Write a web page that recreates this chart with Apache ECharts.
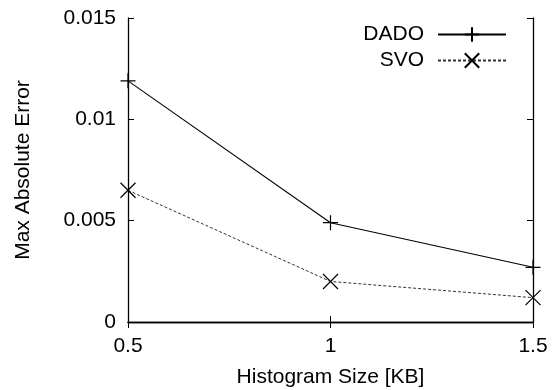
<html style="width: 100%; height: 100%">
<head>
    <meta charset="utf-8">
    <script src="https://cdn.jsdelivr.net/npm/echarts@6/dist/echarts.min.js"></script>
</head>
<body style="width: 100%; height: 100%; margin: 0; background: #fff">
<div id="container" style="width: 552px; height: 390px"></div>

<script type="text/javascript">
    // histogram sizes in KB
    var sizes = [0.5, 1, 1.5];
    var dado = [0.0119, 0.0049, 0.0027];
    var svo = [0.0065, 0.0020, 0.0012];
    var seriesNames = ['DADO', 'SVO'];

    var PLUS = 'path://M0,5L10,5M5,0L5,10';
    var CROSS = 'path://M0,0L10,10M10,0L0,10';
    var FONT = 'Liberation Sans';

    function pairs(vals) {
        return sizes.map(function (s, i) { return [s, vals[i]]; });
    }

    var myChart = echarts.init(document.getElementById('container'));

    var tick = {show: true, inside: true, length: 6, lineStyle: {color: '#000'}};
    var line = {show: true, lineStyle: {color: '#000', width: 1.3}};

    var option = {
        animation: false,
        textStyle: {fontFamily: FONT},
        grid: {left: 128, right: 19, top: 18, bottom: 68, outerBoundsMode: 'none', containLabel: false},
        legend: {
            data: seriesNames,
            orient: 'vertical',
            align: 'right',
            right: 40,
            top: 19,
            itemWidth: 68,
            itemHeight: 18,
            itemGap: 5,
            textStyle: {fontFamily: FONT, fontSize: 21, color: '#000', padding: [0, 9, 0, 0]}
        },
        xAxis: [{
            type: 'value',
            min: 0.5, max: 1.5, interval: 0.5,
            name: 'Histogram Size [KB]',
            nameLocation: 'middle',
            nameGap: 45,
            nameTextStyle: {fontFamily: FONT, fontSize: 21, color: '#000'},
            axisLine: line,
            axisTick: tick,
            axisLabel: {fontFamily: FONT, fontSize: 21, color: '#000', margin: 14},
            splitLine: {show: false}
        }, {
            type: 'value', position: 'top',
            min: 0.5, max: 1.5, interval: 0.5,
            axisLine: line, axisTick: tick,
            axisLabel: {show: false}, splitLine: {show: false}
        }],
        yAxis: [{
            type: 'value',
            min: 0, max: 0.015, interval: 0.005,
            name: 'Max Absolute Error',
            nameLocation: 'middle',
            nameGap: 94,
            nameTextStyle: {fontFamily: FONT, fontSize: 21, color: '#000'},
            axisLine: line,
            axisTick: tick,
            axisLabel: {fontFamily: FONT, fontSize: 21, color: '#000', margin: 12},
            splitLine: {show: false}
        }, {
            type: 'value', position: 'right',
            min: 0, max: 0.015, interval: 0.005,
            axisLine: line, axisTick: tick,
            axisLabel: {show: false}, splitLine: {show: false}
        }],
        series: [{
            name: seriesNames[0],
            type: 'line',
            data: pairs(dado),
            symbol: PLUS,
            symbolSize: 15,
            itemStyle: {color: '#000', borderColor: '#000', borderWidth: 1.2},
            lineStyle: {color: '#000', width: 1.1}
        }, {
            name: seriesNames[1],
            type: 'line',
            data: pairs(svo),
            symbol: CROSS,
            symbolSize: 15,
            itemStyle: {color: '#000', borderColor: '#000', borderWidth: 1.2},
            lineStyle: {color: '#333', width: 1, type: [3, 2]}
        }]
    };
    myChart.setOption(option);
</script>
</body>
</html>
